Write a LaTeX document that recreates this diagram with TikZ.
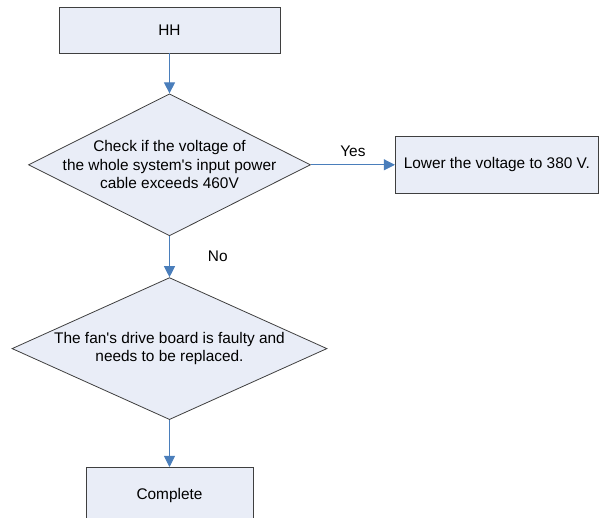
\documentclass[tikz,border=0pt]{standalone}
\usepackage{fontspec}
\setmainfont{Liberation Sans}
\usepackage{tikz}
\usetikzlibrary{arrows.meta,positioning,shapes.geometric}
\definecolor{edge}{HTML}{3F3F3F}
\definecolor{pale}{HTML}{E9EDF7}
\definecolor{flow}{HTML}{4A7EBB}

\begin{document}
\begin{tikzpicture}[x=1pt,y=1pt,
 box/.style={draw=edge,fill=pale,line width=0.8pt,align=center,inner sep=0pt,
 font=\fontsize{15.4}{18.5}\selectfont},
 test/.style={box,diamond,inner ysep=0pt},
 arr/.style={-{Triangle[length=11pt,width=11pt]},line width=0.9pt,draw=flow},
 tag/.style={font=\fontsize{15.4}{17}\selectfont,inner sep=2pt}]
 \clip (0,0) rectangle (600,-518);
 \node[box,minimum width=221pt,minimum height=46pt] (hh) at (169.5,-30) {HH};
 \node[test,below=40pt of hh,minimum width=282pt,minimum height=142pt,
 shape aspect=2,inner xsep=-40pt] (volt)
 {Check if the voltage of\\the whole system\textquotesingle s input power\\cable exceeds 460V};
 \node[box,right=84pt of volt,minimum width=203pt,minimum height=57pt] (lower)
 {Lower the voltage to 380 V.};
 \node[test,below=41pt of volt,minimum width=315pt,minimum height=142pt,
 shape aspect=2.2,inner xsep=-20pt] (board)
 {The fan\textquotesingle s drive board is faulty and\\needs to be replaced.};
 \node[box,below=47pt of board,minimum width=167pt,minimum height=56pt] (done) {Complete};
 \draw[arr] (hh)--(volt);
 \draw[arr] (volt)--node[tag,above=6pt]{Yes}(lower);
 \draw[arr] (volt)--node[tag,right=36pt]{No}(board);
 \draw[arr] (board)--(done);
\end{tikzpicture}
\end{document}
